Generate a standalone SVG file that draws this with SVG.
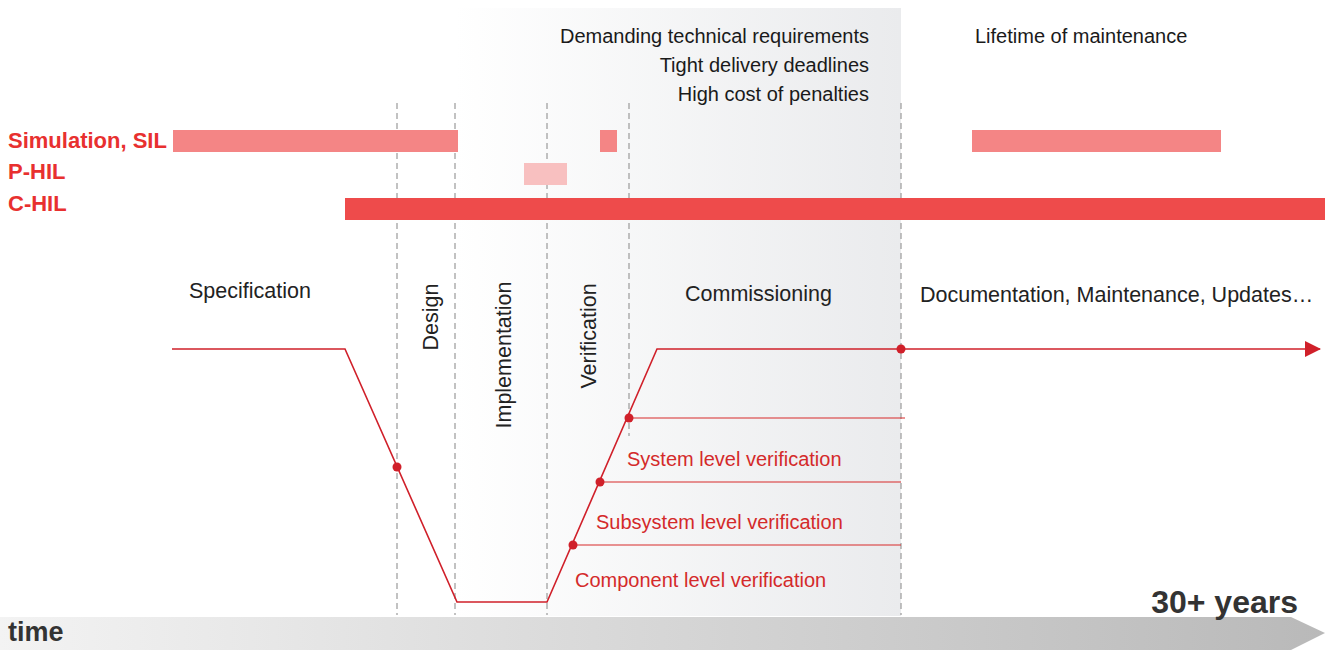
<svg xmlns="http://www.w3.org/2000/svg" width="1325" height="650" viewBox="0 0 1325 650">
<defs>
<linearGradient id="panel" x1="0" y1="0" x2="1" y2="0">
<stop offset="0" stop-color="#ffffff"/>
<stop offset="1" stop-color="#eaebed"/>
</linearGradient>
<linearGradient id="timeg" x1="0" y1="0" x2="1" y2="0">
<stop offset="0" stop-color="#f3f3f3"/>
<stop offset="1" stop-color="#b9b9b9"/>
</linearGradient>
<marker id="arr" markerWidth="16" markerHeight="16" refX="15" refY="8" orient="auto" markerUnits="userSpaceOnUse">
<path d="M0,0 L16,8 L0,16 Z" fill="#d0202a"/>
</marker>
<style>
.dash{stroke:#9a9a9a;stroke-width:1.2;stroke-dasharray:6,4;fill:none}
.red{stroke:#d0202a;stroke-width:1.6;fill:none}
.thin{stroke:#d82a2a;stroke-width:1.2;fill:none}
.dot{fill:#d0202a}
.lbl{font-family:"Liberation Sans",Arial,sans-serif;font-weight:bold;font-size:22px;fill:#e8302f}
.top{font-family:"Liberation Sans",Arial,sans-serif;font-size:20px;fill:#1a1a1a}
.ph{font-family:"Liberation Sans",Arial,sans-serif;font-size:21.5px;fill:#222}
.ver{font-family:"Liberation Sans",Arial,sans-serif;font-size:20px;fill:#d42a2a}
.big{font-family:"Liberation Sans",Arial,sans-serif;font-weight:bold;fill:#333}
</style>
</defs>
<rect id="panel-bg" x="455" y="8" width="446" height="608" fill="url(#panel)"/>
<g id="time-axis">
<path d="M0,617 L1291,617 L1325,633 L1291,650 L0,650 Z" fill="url(#timeg)"/>
<text class="big" x="8" y="641" font-size="27">time</text>
<text class="big" x="1298" y="613" font-size="32" text-anchor="end">30+ years</text>
</g>
<g id="dividers">
<line class="dash" x1="397" y1="103" x2="397" y2="615"/>
<line class="dash" x1="455" y1="103" x2="455" y2="615"/>
<line class="dash" x1="547" y1="103" x2="547" y2="615"/>
<line class="dash" x1="629" y1="103" x2="629" y2="436"/>
<line class="dash" x1="901" y1="103" x2="901" y2="615"/>
</g>
<g id="top-notes">
<text class="top" x="869" y="43" text-anchor="end">Demanding technical requirements</text>
<text class="top" x="869" y="72" text-anchor="end">Tight delivery deadlines</text>
<text class="top" x="869" y="101" text-anchor="end">High cost of penalties</text>
<text class="top" x="975" y="43">Lifetime of maintenance</text>
</g>
<g id="sil">
<text class="lbl" x="8" y="148">Simulation, SIL</text>
<rect x="173" y="130" width="285" height="22" fill="#f48585"/>
<rect x="600" y="130" width="17" height="22" fill="#f48585"/>
<rect x="972" y="130" width="249" height="22" fill="#f48585"/>
</g>
<g id="phil">
<text class="lbl" x="8" y="179">P-HIL</text>
<rect x="524" y="163" width="43" height="22" fill="#f8c0c0"/>
</g>
<g id="chil">
<text class="lbl" x="8" y="211">C-HIL</text>
<rect x="345" y="198" width="980" height="22" fill="#ee4b4b"/>
</g>
<g id="phases">
<text class="ph" x="189" y="298">Specification</text>
<text class="ph" transform="translate(438,317) rotate(-90)" text-anchor="middle">Design</text>
<text class="ph" transform="translate(511,355) rotate(-90)" text-anchor="middle">Implementation</text>
<text class="ph" transform="translate(596,336) rotate(-90)" text-anchor="middle">Verification</text>
<text class="ph" x="685" y="301">Commissioning</text>
<text class="ph" x="920" y="302">Documentation, Maintenance, Updates…</text>
</g>
<g id="connectors">
<polyline class="red" points="172,349 345,349 457,602 547,602 657,349 901,349"/>
<line class="red" x1="901" y1="349" x2="1320" y2="349" marker-end="url(#arr)"/>
<line class="thin" x1="629" y1="418" x2="905" y2="418"/>
<line class="thin" x1="600" y1="482" x2="901" y2="482"/>
<line class="thin" x1="573" y1="545" x2="901" y2="545"/>
<circle class="dot" cx="397" cy="467" r="4.5"/>
<circle class="dot" cx="629" cy="418" r="4.5"/>
<circle class="dot" cx="600" cy="482" r="4.5"/>
<circle class="dot" cx="573" cy="545" r="4.5"/>
<circle class="dot" cx="901" cy="349" r="4.5"/>
</g>
<g id="levels">
<text class="ver" x="627" y="466">System level verification</text>
<text class="ver" x="596" y="529">Subsystem level verification</text>
<text class="ver" x="575" y="587">Component level verification</text>
</g>
</svg>
